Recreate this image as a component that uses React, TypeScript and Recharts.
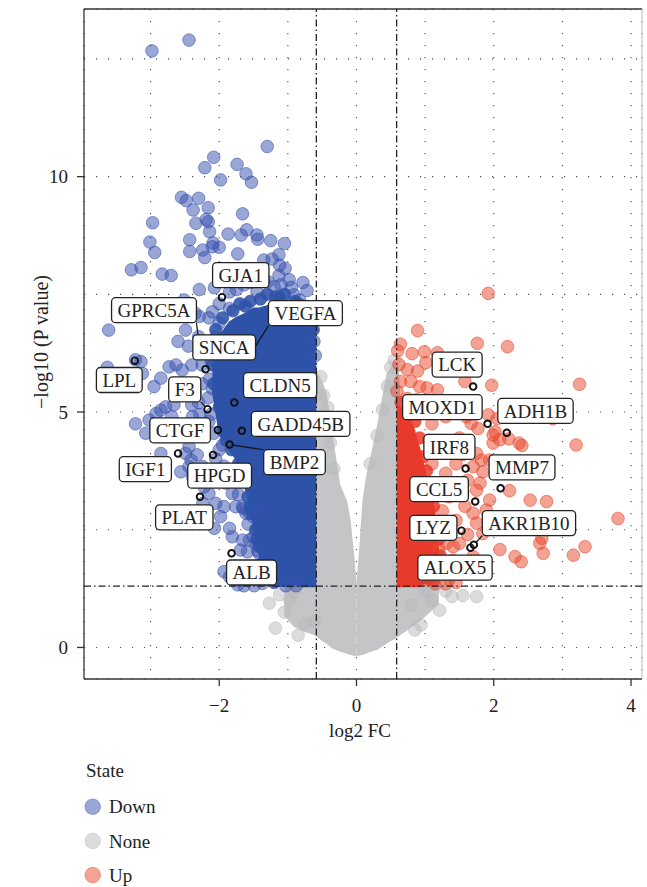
import React from 'react';
import { ComposedChart, XAxis, YAxis, CartesianGrid, Scatter, Area, ReferenceLine } from 'recharts';

// ---------- axes ----------
const X_DOMAIN: [number, number] = [-3.97, 4.16];
const Y_DOMAIN: [number, number] = [-0.67, 13.56];
const X_TICKS = [-3, -2, -1, 0, 1, 2, 3, 4];
const X_LABELED = [-2, 0, 2, 4];
const Y_TICKS = [0, 2.5, 5, 7.5, 10, 12.5];
const Y_LABELED = [0, 5, 10];
const FC_CUT = 0.585;
const P_CUT = 1.301;

// ---------- significant-down genes (log2FC, -log10 p) ----------
const downPoints: [number, number][] = [
  [-2.98, 12.67], [-2.44, 12.9], [-1.3, 10.64], [-2.08, 10.41], [-2.21, 10.19], [-1.98, 9.93], [-1.74, 10.26],
  [-1.61, 10.06], [-1.53, 9.88], [-2.55, 9.56], [-2.48, 9.49], [-2.3, 9.54], [-2.38, 9.29], [-2.16, 9.34],
  [-1.66, 9.21], [-2.97, 9.02], [-2.34, 9.01], [-2.16, 9.04], [-2.14, 8.83], [-1.87, 8.78], [-1.68, 8.76],
  [-1.6, 8.87], [-1.45, 8.76], [-1.44, 8.67], [-1.25, 8.64], [-1.05, 8.58], [-3.01, 8.61], [-2.94, 8.39],
  [-2.43, 8.66], [-2.43, 8.41], [-2.24, 8.44], [-2.21, 8.28], [-2.1, 8.51], [-2.0, 8.5], [-1.73, 8.36],
  [-1.35, 8.23], [-1.13, 8.34], [-1.04, 8.05], [-1.12, 8.12], [-3.28, 8.02], [-3.14, 8.07], [-2.83, 7.93],
  [-2.7, 7.9], [-0.78, 7.75], [-0.72, 7.58], [-2.19, 9.09], [-2.09, 8.59], [-1.23, 8.25], [-1.13, 7.9],
  [-1.29, 7.77],
  [-2.29, 7.6], [-2.07, 7.64], [-1.85, 7.55], [-1.64, 7.7], [-1.45, 7.55], [-1.2, 7.66], [-0.98, 7.81],
  [-0.91, 7.49], [-2.51, 7.38], [-0.83, 7.38], [-0.69, 7.17], [-0.65, 6.9], [-0.62, 6.5], [-0.6, 6.2],
  [-0.95, 7.65], [-1.1, 7.7], [-1.75, 7.6], [-1.55, 7.75], [-1.35, 7.8],
  [-2.12, 6.1], [-2.14, 5.7], [-2.16, 5.3], [-2.12, 4.95], [-2.08, 4.55], [-2.0, 4.2], [-1.93, 3.85],
  [-1.84, 3.55], [-1.72, 3.25], [-1.65, 2.95], [-1.58, 2.62], [-1.5, 2.35], [-1.44, 2.05], [-1.38, 1.75],
  [-1.3, 1.5], [-2.25, 6.0], [-2.35, 5.4], [-2.28, 4.95], [-2.4, 5.15],
  [-2.3, 6.6], [-2.2, 6.3], [-2.05, 6.6], [-2.25, 5.6], [-2.1, 5.5], [-2.3, 5.2], [-2.15, 4.8], [-2.35, 4.6],
  [-1.95, 4.3], [-2.05, 4.0], [-2.4, 6.0], [-2.0, 7.3], [-1.85, 7.2], [-2.15, 7.0], [-2.35, 7.1], [-2.45, 6.4],
  [-2.6, 6.5],
  [-3.61, 6.74], [-3.63, 5.95], [-3.22, 6.11], [-3.14, 6.07], [-3.12, 5.82], [-2.95, 5.54], [-2.85, 5.72],
  [-2.73, 5.96], [-2.63, 6.0], [-2.54, 5.89], [-2.49, 6.74], [-2.29, 7.03], [-2.1, 7.13], [-2.0, 6.89],
  [-3.22, 4.75], [-3.07, 4.55], [-2.92, 4.97], [-2.85, 5.04], [-2.78, 5.11], [-2.66, 5.15], [-2.69, 4.9],
  [-2.49, 5.4], [-2.39, 4.9], [-3.02, 4.83], [-2.92, 4.69], [-2.83, 4.48], [-2.74, 4.55], [-2.66, 4.51],
  [-2.85, 4.12], [-2.49, 4.12], [-2.41, 3.98], [-2.56, 3.73], [-2.44, 4.26], [-2.32, 4.09], [-2.24, 3.84],
  [-2.44, 3.84], [-2.39, 3.63], [-2.29, 3.63], [-2.22, 3.41], [-2.15, 3.27], [-2.0, 3.63], [-1.9, 3.49],
  [-1.81, 3.27], [-1.76, 2.99], [-1.66, 2.99], [-1.61, 2.85], [-1.51, 2.78], [-2.24, 3.06], [-2.05, 3.06],
  [-1.93, 2.99], [-1.98, 2.78], [-2.07, 2.53], [-1.85, 2.53], [-1.81, 2.35], [-1.56, 2.85], [-1.42, 2.92],
  [-1.66, 2.28], [-1.56, 2.28], [-1.47, 2.21], [-1.69, 2.07], [-1.59, 2.03], [-1.42, 2.0], [-1.32, 1.89],
  [-1.93, 1.61], [-1.85, 1.5], [-1.73, 1.33], [-1.64, 1.31], [-1.49, 1.31], [-1.37, 1.36], [-1.28, 1.5],
  [-1.18, 1.43], [-1.03, 1.31], [-0.88, 1.31],
];

// tightly overlapping down genes along the rim of the dense block
const downEdge: [number, number][] = [
  [-2.05, 6.75], [-1.95, 7.0], [-1.8, 7.15], [-1.7, 7.3], [-1.55, 7.35], [-1.4, 7.4], [-1.3, 7.5],
  [-1.18, 7.45], [-1.05, 7.5], [-0.9, 7.35], [-0.78, 7.25], [-0.7, 7.0], [-0.63, 6.75],
  [-2.1, 6.0], [-2.08, 5.6], [-2.0, 5.1], [-1.95, 4.6], [-1.82, 4.2], [-1.72, 3.9], [-1.65, 3.55],
  [-1.58, 3.2], [-1.52, 2.85], [-1.47, 2.5], [-1.42, 2.15], [-1.36, 1.8], [-1.28, 1.5], [-1.2, 1.38],
  [-2.06, 6.4], [-1.62, 7.25], [-1.12, 7.42], [-0.85, 7.3], [-1.9, 4.4], [-1.55, 3.0], [-1.45, 2.3],
];

// dense core of the down genes: [log2FC, lower, upper]
const downCore: [number, number, number][] = [
  [-2.1, 5.5, 6.2], [-2.0, 4.6, 6.6], [-1.85, 4.2, 6.9], [-1.75, 4.0, 7.0], [-1.6, 3.3, 7.1],
  [-1.5, 2.6, 7.2], [-1.42, 2.0, 7.2], [-1.3, 1.5, 7.25], [-1.22, 1.32, 7.3], [-1.0, 1.3, 7.3],
  [-0.8, 1.3, 7.2], [-0.68, 1.3, 7.0], [-0.585, 1.3, 6.7],
];

// ---------- significant-up genes ----------
const upPoints: [number, number][] = [
  [1.92, 7.52], [1.76, 6.46], [2.2, 6.39], [0.89, 6.73], [0.64, 6.44], [0.6, 6.3], [0.81, 6.24], [0.99, 6.28],
  [1.18, 6.26], [0.62, 6.01], [0.74, 5.9], [0.89, 5.87], [1.01, 6.05], [0.64, 5.65], [0.79, 5.65], [1.03, 5.51],
  [1.18, 5.47], [1.58, 5.65], [1.97, 5.57], [3.25, 5.59], [0.59, 5.44], [0.74, 5.29], [0.92, 5.54], [0.87, 5.26],
  [1.07, 5.19], [1.92, 4.94], [2.05, 4.86], [2.86, 4.86], [3.2, 4.3], [2.37, 4.34], [2.02, 4.58], [2.22, 4.43],
  [2.41, 4.29], [1.67, 4.76], [1.77, 4.65], [1.99, 4.51], [2.09, 4.41], [1.99, 4.34], [1.75, 4.12], [1.82, 3.98],
  [1.7, 3.84], [1.94, 3.98], [1.84, 3.73], [1.8, 3.49], [1.75, 3.34], [2.23, 3.33], [2.53, 3.13], [2.77, 3.1],
  [1.94, 3.13], [1.89, 2.92], [1.7, 2.85], [1.75, 2.64], [1.84, 2.42], [2.7, 2.32], [2.67, 2.21], [2.72, 2.0],
  [2.09, 2.08], [2.31, 1.93], [2.4, 1.82], [3.16, 1.96], [3.33, 2.14], [3.81, 2.74], [1.5, 2.21], [1.41, 2.14],
  [1.31, 2.21], [1.7, 1.93], [1.6, 1.79],
  [1.05, 4.4], [1.2, 4.2], [1.35, 4.3], [1.5, 4.45], [1.1, 3.9], [1.3, 3.7], [1.45, 3.9], [1.15, 3.4], [1.35, 3.2],
  [1.55, 3.3], [1.25, 2.9], [1.45, 2.7], [1.1, 2.6], [1.3, 2.45], [1.2, 2.1], [1.4, 1.85], [1.25, 1.6], [1.1, 1.5],
  [1.5, 1.55], [1.35, 1.45], [0.98, 5.0], [1.1, 4.75], [1.3, 4.9], [1.45, 5.05], [1.6, 4.9], [1.45, 1.38],
  [1.3, 1.35], [1.62, 2.4], [1.58, 3.0], [1.62, 3.55], [1.55, 4.1], [1.0, 3.2], [0.95, 2.4], [1.0, 1.8], [1.15, 1.35],
];

const upEdge: [number, number][] = [
  [0.65, 5.2], [0.75, 5.05], [0.85, 4.8], [0.92, 4.45], [0.97, 4.05], [1.02, 3.75], [1.07, 3.35], [1.12, 3.0],
  [1.17, 2.65], [1.2, 2.3], [1.22, 1.95], [1.2, 1.6], [1.12, 1.42], [0.8, 4.95],
];

const upCore: [number, number, number][] = [
  [0.585, 1.3, 5.15], [0.7, 1.3, 5.0], [0.82, 1.3, 4.7], [0.92, 1.3, 4.2], [1.02, 1.32, 3.6], [1.12, 1.4, 3.0],
  [1.2, 1.5, 2.3],
];

// ---------- non-significant genes ----------
const nonePoints: [number, number][] = [
  [-1.27, 0.94], [-1.18, 0.41], [-0.97, 1.0], [-0.85, 0.26], [-0.61, 0.55], [-1.05, 0.75], [-1.12, 1.12],
  [-0.9, 1.18], [-0.75, 0.5], [0.94, 0.48], [1.09, 1.0], [1.39, 1.08], [1.75, 1.08], [1.55, 1.1], [1.21, 0.79],
  [0.85, 0.37], [1.0, 1.2], [0.8, 0.9], [1.3, 1.2],
  [-0.52, 5.75], [-0.48, 5.35], [-0.43, 4.9], [-0.38, 4.35], [-0.33, 3.8], [-0.42, 5.1], [0.5, 5.95],
  [0.45, 5.55], [0.38, 5.05], [0.3, 4.5], [0.2, 3.9], [0.55, 6.1],
];

const noneCoreLeft: [number, number, number][] = [
  [-1.05, 0.7, 1.3], [-0.9, 0.45, 1.35], [-0.75, 0.35, 1.5], [-0.6, 0.28, 5.9], [-0.5, 0.16, 5.6],
  [-0.45, 0.12, 5.4], [-0.35, 0.0, 4.4], [-0.25, -0.06, 3.45], [-0.15, -0.11, 3.1], [-0.1, -0.13, 2.7],
  [-0.05, -0.15, 2.0], [0, -0.16, 1.15],
];
const noneCoreRight: [number, number, number][] = [
  [0, -0.16, 1.15], [0.05, -0.15, 2.0], [0.1, -0.13, 3.1], [0.15, -0.1, 3.6], [0.3, -0.03, 4.6],
  [0.45, 0.12, 5.8], [0.55, 0.2, 6.05], [0.6, 0.25, 6.0], [0.75, 0.4, 1.6], [0.9, 0.55, 1.45],
  [1.05, 0.75, 1.35], [1.2, 0.95, 1.3],
];

// ---------- labelled genes ----------
const labelGenes: [string, number, number][] = [
  ['GJA1', -1.96, 7.44], ['GPRC5A', -2.28, 6.32], ['VEGFA', -1.56, 6.19], ['LPL', -3.23, 6.09],
  ['F3', -2.17, 5.06], ['CLDN5', -1.78, 5.2], ['CTGF', -2.02, 4.62], ['GADD45B', -1.67, 4.6],
  ['BMP2', -1.85, 4.31], ['IGF1', -2.6, 4.12], ['HPGD', -2.09, 4.09], ['PLAT', -2.28, 3.2],
  ['ALB', -1.82, 2.0], ['SNCA', -2.2, 5.91], ['LCK', 1.7, 5.54], ['MOXD1', 1.91, 4.75],
  ['ADH1B', 2.19, 4.56], ['IRF8', 1.59, 3.8], ['MMP7', 2.1, 3.38], ['CCL5', 1.73, 3.1],
  ['LYZ', 1.53, 2.48], ['AKR1B10', 1.71, 2.18], ['ALOX5', 1.66, 2.12],
];

// label box placement (pixel offset of box centre from the point, draw segment?)
const labelLayout: Record<string, [number, number, boolean]> = {
  GJA1: [18.8, -22, false], GPRC5A: [-46, -39.7, true], VEGFA: [56, -42.8, true], SNCA: [18.7, -21.8, false],
  LPL: [-15.5, 19.3, false], F3: [-22.8, -19.8, true], CLDN5: [45.8, -17.4, false], CTGF: [-37.7, 0.5, false],
  GADD45B: [58.8, -6.9, false], BMP2: [65, 17.7, true], IGF1: [-32.7, 15.7, false], HPGD: [6.6, 20.8, false],
  PLAT: [-15.7, 20.5, false], ALB: [20, 19.2, false], LCK: [-16, -22, false], MOXD1: [-45.2, -16.6, false],
  ADH1B: [28.7, -21.8, false], IRF8: [-16.2, -21.6, false], MMP7: [21.4, -20.9, false], CCL5: [-36.1, -12.3, false],
  LYZ: [-28.1, -2.9, false], AKR1B10: [55.1, -21.7, true], ALOX5: [-15.4, 20, false],
};

const FONT = "'Liberation Serif', 'DejaVu Serif', serif";
const BLUE = '#3550ad';
const BLUE_CORE = '#2d52a8';
const RED = '#ea452a';
const RED_CORE = '#e83a2b';
const GREY = '#b9b9bb';
const GREY_CORE = '#c4c5c7';

const toPts = (a: [number, number][]) => a.map(([x, y]) => ({ x, y }));
const toCore = (a: [number, number, number][]) => a.map(([x, lo, hi]) => ({ x, range: [lo, hi] }));

let ctx: CanvasRenderingContext2D | null = null;
const textWidth = (s: string) => {
  if (!ctx) ctx = document.createElement('canvas').getContext('2d');
  if (!ctx) return s.length * 11;
  ctx.font = "19px 'Liberation Serif'";
  return ctx.measureText(s).width;
};

const fmt = (v: number) => (v < 0 ? '\u2212' + Math.abs(v) : String(v));

const dotShape = (color: string, op = 0.5) => (p: any) => (
  <circle cx={p.cx} cy={p.cy} r={6.3} fill={color} fillOpacity={op} stroke={color} strokeOpacity={0.55} strokeWidth={1} />
);

const hollowShape = (p: any) => (
  <circle cx={p.cx} cy={p.cy} r={3.3} fill="none" stroke="#111" strokeWidth={1.9} />
);

const labelShape = (p: any) => {
  const { cx, cy, payload } = p;
  const [dx, dy, seg] = labelLayout[payload.name];
  const w = textWidth(payload.name) + 12;
  const h = 25;
  const bx = cx + dx;
  const by = cy + dy;
  const x0 = bx - w / 2;
  const y0 = by - h / 2;
  let line = null;
  if (seg) {
    const sx = Math.min(Math.max(cx, x0), x0 + w);
    const sy = Math.min(Math.max(cy, y0), y0 + h);
    const len = Math.hypot(cx - sx, cy - sy) || 1;
    const ex = cx - ((cx - sx) / len) * 3.5;
    const ey = cy - ((cy - sy) / len) * 3.5;
    line = <line x1={sx} y1={sy} x2={ex} y2={ey} stroke="#111" strokeWidth={1.2} />;
  }
  return (
    <g>
      {line}
      <rect x={x0} y={y0} width={w} height={h} rx={4} ry={4} fill="#fff" stroke="#222" strokeWidth={1.3} />
      <text x={bx} y={by} dy="0.35em" textAnchor="middle" fontFamily={FONT} fontSize={19} fill="#222">
        {payload.name}
      </text>
    </g>
  );
};

const XTick = (p: any) => {
  const { x, y, payload } = p;
  if (!X_LABELED.includes(payload.value)) return <g />;
  const axisY = y - 7 - 13;
  return (
    <g>
      <line x1={x} x2={x} y1={axisY} y2={axisY + 7} stroke="#333" strokeWidth={1.3} />
      <text x={x} y={y} dy="0.71em" textAnchor="middle" fontFamily={FONT} fontSize={19} fill="#222">
        {fmt(payload.value)}
      </text>
    </g>
  );
};

const YTick = (p: any) => {
  const { x, y, payload } = p;
  if (!Y_LABELED.includes(payload.value)) return <g />;
  const axisX = x + 7 + 9;
  return (
    <g>
      <line x1={axisX - 7} x2={axisX} y1={y} y2={y} stroke="#333" strokeWidth={1.3} />
      <text x={x} y={y} dy="0.35em" textAnchor="end" fontFamily={FONT} fontSize={19} fill="#222">
        {fmt(payload.value)}
      </text>
    </g>
  );
};

const legendItems: [string, string][] = [['Down', BLUE], ['None', GREY], ['Up', RED]];

export default function App() {
  const labelData = labelGenes.map(([name, x, y]) => ({ name, x, y }));
  return (
    <div style={{ position: 'absolute', left: 0, top: 0, width: 647, height: 887, background: '#fff' }}>
      <ComposedChart width={647} height={887} margin={{ top: 9, right: 5, bottom: 168, left: 24 }}>
        <CartesianGrid stroke="#555" strokeWidth={1.1} strokeDasharray="1.2 10.8" />
        <XAxis
          type="number"
          dataKey="x"
          domain={X_DOMAIN}
          allowDataOverflow
          ticks={X_TICKS}
          interval={0}
          height={40}
          tickSize={7}
          tickMargin={13}
          tickLine={false}
          tick={<XTick />}
          axisLine={{ stroke: '#333', strokeWidth: 1.3 }}
          label={{
            content: (lp: any) => {
              const vb = lp.viewBox || { x: 84, width: 558 };
              return (
                <text x={vb.x + vb.width / 2 - 3} y={737} textAnchor="middle" fontFamily={FONT} fontSize={19} fill="#222">
                  log2 FC
                </text>
              );
            },
          }}
        />
        <YAxis
          type="number"
          dataKey="y"
          domain={Y_DOMAIN}
          allowDataOverflow
          ticks={Y_TICKS}
          interval={0}
          width={60}
          tickSize={7}
          tickMargin={9}
          tickLine={false}
          tick={<YTick />}
          axisLine={{ stroke: '#333', strokeWidth: 1.3 }}
          label={{
            content: (lp: any) => {
              const vb = lp.viewBox || { y: 9, height: 670 };
              const cy = vb.y + vb.height / 2 - 2;
              return (
                <text
                  transform={`translate(41, ${cy}) rotate(-90)`}
                  textAnchor="middle"
                  dy="0.35em"
                  fontFamily={FONT}
                  fontSize={20}
                  fill="#222"
                >
                  {'\u2212log10 (P value)'}
                </text>
              );
            },
          }}
        />
        <ReferenceLine y={Y_DOMAIN[1]} stroke="#333" strokeWidth={1.5} />
        <ReferenceLine x={X_DOMAIN[1]} stroke="#c8c8c8" strokeWidth={1.2} />

        <Area data={toCore(noneCoreLeft)} dataKey="range" type="linear" stroke={GREY_CORE} strokeWidth={2} fill={GREY_CORE} fillOpacity={1} dot={false} activeDot={false} isAnimationActive={false} />
        <Area data={toCore(noneCoreRight)} dataKey="range" type="linear" stroke={GREY_CORE} strokeWidth={2} fill={GREY_CORE} fillOpacity={1} dot={false} activeDot={false} isAnimationActive={false} />
        <Area data={toCore(downCore)} dataKey="range" type="linear" stroke={BLUE_CORE} strokeWidth={2} fill={BLUE_CORE} fillOpacity={1} dot={false} activeDot={false} isAnimationActive={false} />
        <Area data={toCore(upCore)} dataKey="range" type="linear" stroke={RED_CORE} strokeWidth={2} fill={RED_CORE} fillOpacity={1} dot={false} activeDot={false} isAnimationActive={false} />

        <Scatter data={toPts(nonePoints)} shape={dotShape(GREY)} isAnimationActive={false} />
        <Scatter data={toPts(downPoints)} shape={dotShape(BLUE)} isAnimationActive={false} />
        <Scatter data={toPts(downEdge)} shape={dotShape(BLUE_CORE, 0.88)} isAnimationActive={false} />
        <Scatter data={toPts(upPoints)} shape={dotShape(RED)} isAnimationActive={false} />
        <Scatter data={toPts(upEdge)} shape={dotShape(RED_CORE, 0.85)} isAnimationActive={false} />

        <ReferenceLine x={-FC_CUT} stroke="#222" strokeWidth={1.3} strokeDasharray="7 3 1.5 3" zIndex={650} />
        <ReferenceLine x={FC_CUT} stroke="#222" strokeWidth={1.3} strokeDasharray="7 3 1.5 3" zIndex={650} />
        <ReferenceLine y={P_CUT} stroke="#222" strokeWidth={1.3} strokeDasharray="7 3 1.5 3" zIndex={650} />

        <Scatter data={labelData} shape={hollowShape} isAnimationActive={false} zIndex={700} />
        <Scatter data={labelData} shape={labelShape} isAnimationActive={false} zIndex={710} />
      </ComposedChart>
      <svg width={647} height={147} style={{ position: 'absolute', left: 0, top: 740 }}>
        <text x={86} y={37} fontFamily={FONT} fontSize={19} fill="#222">State</text>
        {legendItems.map(([name, color], i) => (
          <g key={name}>
            <circle cx={92.7} cy={66.7 + i * 34.2} r={7.8} fill={color} fillOpacity={0.5} stroke={color} strokeOpacity={0.4} strokeWidth={1} />
            <text x={109} y={66.7 + i * 34.2} dy="0.35em" fontFamily={FONT} fontSize={19} fill="#222">{name}</text>
          </g>
        ))}
      </svg>
    </div>
  );
}
